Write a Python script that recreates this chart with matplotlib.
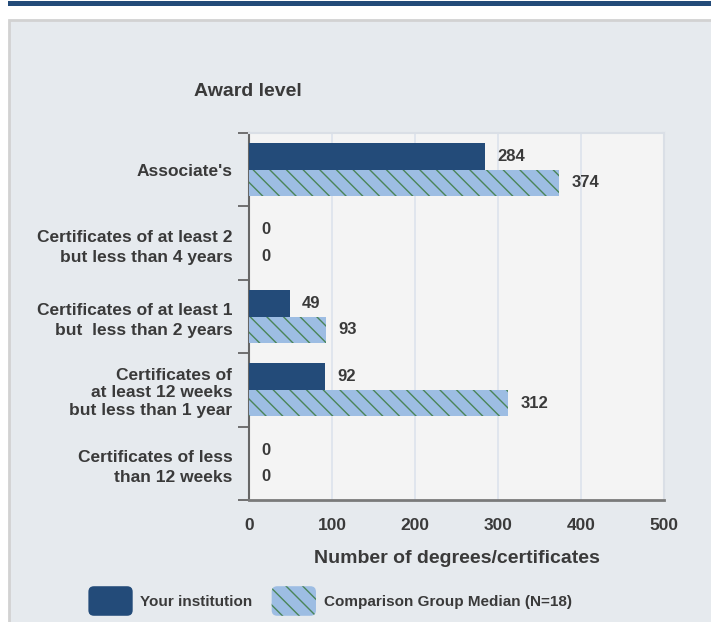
import numpy as np
import matplotlib
matplotlib.use('Agg')
import matplotlib.pyplot as plt
from matplotlib.patches import Rectangle, FancyBboxPatch
from matplotlib.legend_handler import HandlerPatch

# ------------------ DATA ------------------
categories = [
    "Associate's",
    "Certificates of at least 2\nbut less than 4 years",
    "Certificates of at least 1\nbut  less than 2 years",
    "Certificates of\nat least 12 weeks\nbut less than 1 year",
    "Certificates of less\nthan 12 weeks",
]
your_institution = [284, 0, 49, 92, 0]
comparison_median = [374, 0, 93, 312, 0]
x_ticks = [0, 100, 200, 300, 400, 500]
series_names = ["Your institution", "Comparison Group Median (N=18)"]
# ------------------------------------------

plt.rcParams['font.family'] = ['Liberation Sans', 'DejaVu Sans']
plt.rcParams['hatch.linewidth'] = 1.0

dark_blue = '#234b79'
light_blue = '#9dbde3'
hatch_green = '#4a8558'
text_color = '#3a3a3a'

fig = plt.figure(figsize=(7.11, 6.22), dpi=100, facecolor='white')

# page decorations: top rule and grey panel (kept behind the axes)
fig.patches.append(Rectangle((8 / 711, 616 / 622), 703 / 711, 5 / 622,
                             transform=fig.transFigure, facecolor=dark_blue,
                             edgecolor='none', zorder=-10))
fig.patches.append(Rectangle((9 / 711, -0.01), 705 / 711, 0.99 - 14 / 622 + 0.01,
                             transform=fig.transFigure, facecolor='#e6eaee',
                             edgecolor='#d2d2d2', linewidth=2, zorder=-10))

ax = fig.add_axes([249 / 711, 122 / 622, 415 / 711, 367 / 622])
ax.set_facecolor('#f4f4f4')

y = np.arange(len(categories))
h = 0.36
bars1 = ax.barh(y - h / 2, your_institution, height=h, color=dark_blue,
                edgecolor='none', zorder=3)
bars2 = ax.barh(y + h / 2, comparison_median, height=h, color=light_blue,
                edgecolor=hatch_green, linewidth=0, hatch='\\\\', zorder=3)

for bars in (bars1, bars2):
    ax.bar_label(bars, padding=9, fontsize=12, fontweight='bold', color=text_color)

ax.set_xlim(0, 500)
ax.set_ylim(len(categories) - 0.5, -0.5)
ax.set_xticks(x_ticks)
ax.set_xticklabels([str(t) for t in x_ticks])
ax.tick_params(axis='x', length=0, pad=13, labelsize=12.5, labelcolor=text_color)
for lbl in ax.get_xticklabels():
    lbl.set_fontweight('bold')

# category boundaries as tick marks, labels on minor ticks
ax.set_yticks(np.arange(len(categories) + 1) - 0.5)
ax.set_yticklabels([])
ax.tick_params(axis='y', which='major', length=8, width=1.3, color='#666666')
ax.set_yticks(y, minor=True)
ax.set_yticklabels(categories, minor=True, fontsize=12.5, fontweight='bold',
                   color=text_color, ha='right')
ax.tick_params(axis='y', which='minor', length=0, pad=12)
for lbl in ax.get_yticklabels(minor=True):
    n_lines = lbl.get_text().count('\n') + 1
    lbl.set_linespacing(1.45 if n_lines == 2 else 1.2)

ax.grid(axis='x', color='#dde3ec', linewidth=1.2, zorder=0)
ax.set_axisbelow(True)

ax.spines['left'].set_color('#666666')
ax.spines['left'].set_linewidth(1.5)
ax.spines['bottom'].set_color('#7a7a7a')
ax.spines['bottom'].set_linewidth(2)
ax.spines['top'].set_color('#dadfe6')
ax.spines['right'].set_color('#dadfe6')
ax.spines['right'].set_linewidth(1.5)
ax.spines['top'].set_linewidth(1.5)

ax.set_xlabel("Number of degrees/certificates", fontsize=14, fontweight='bold',
              color=text_color, labelpad=12)

fig.text(248 / 711, 1 - 92 / 622, "Award level", ha='center', va='center',
         fontsize=14, fontweight='bold', color=text_color)


def rounded_patch(legend, orig_handle, xdescent, ydescent, width, height, fontsize):
    return FancyBboxPatch((-xdescent, -ydescent), width, height,
                          boxstyle='round,pad=0,rounding_size=4')


handles = [bars1[0], bars2[0]]
fig.legend(handles, series_names, loc='center', bbox_to_anchor=(330 / 711, 1 - 601 / 622),
           ncol=2, frameon=False, handlelength=2.9, handleheight=2.6,
           handletextpad=0.5, columnspacing=1.25,
           handler_map={type(bars1[0]): HandlerPatch(patch_func=rounded_patch)},
           prop={'size': 11, 'weight': 'bold'}, labelcolor=text_color)

fig.savefig('out.png', dpi=100, facecolor=fig.get_facecolor())
